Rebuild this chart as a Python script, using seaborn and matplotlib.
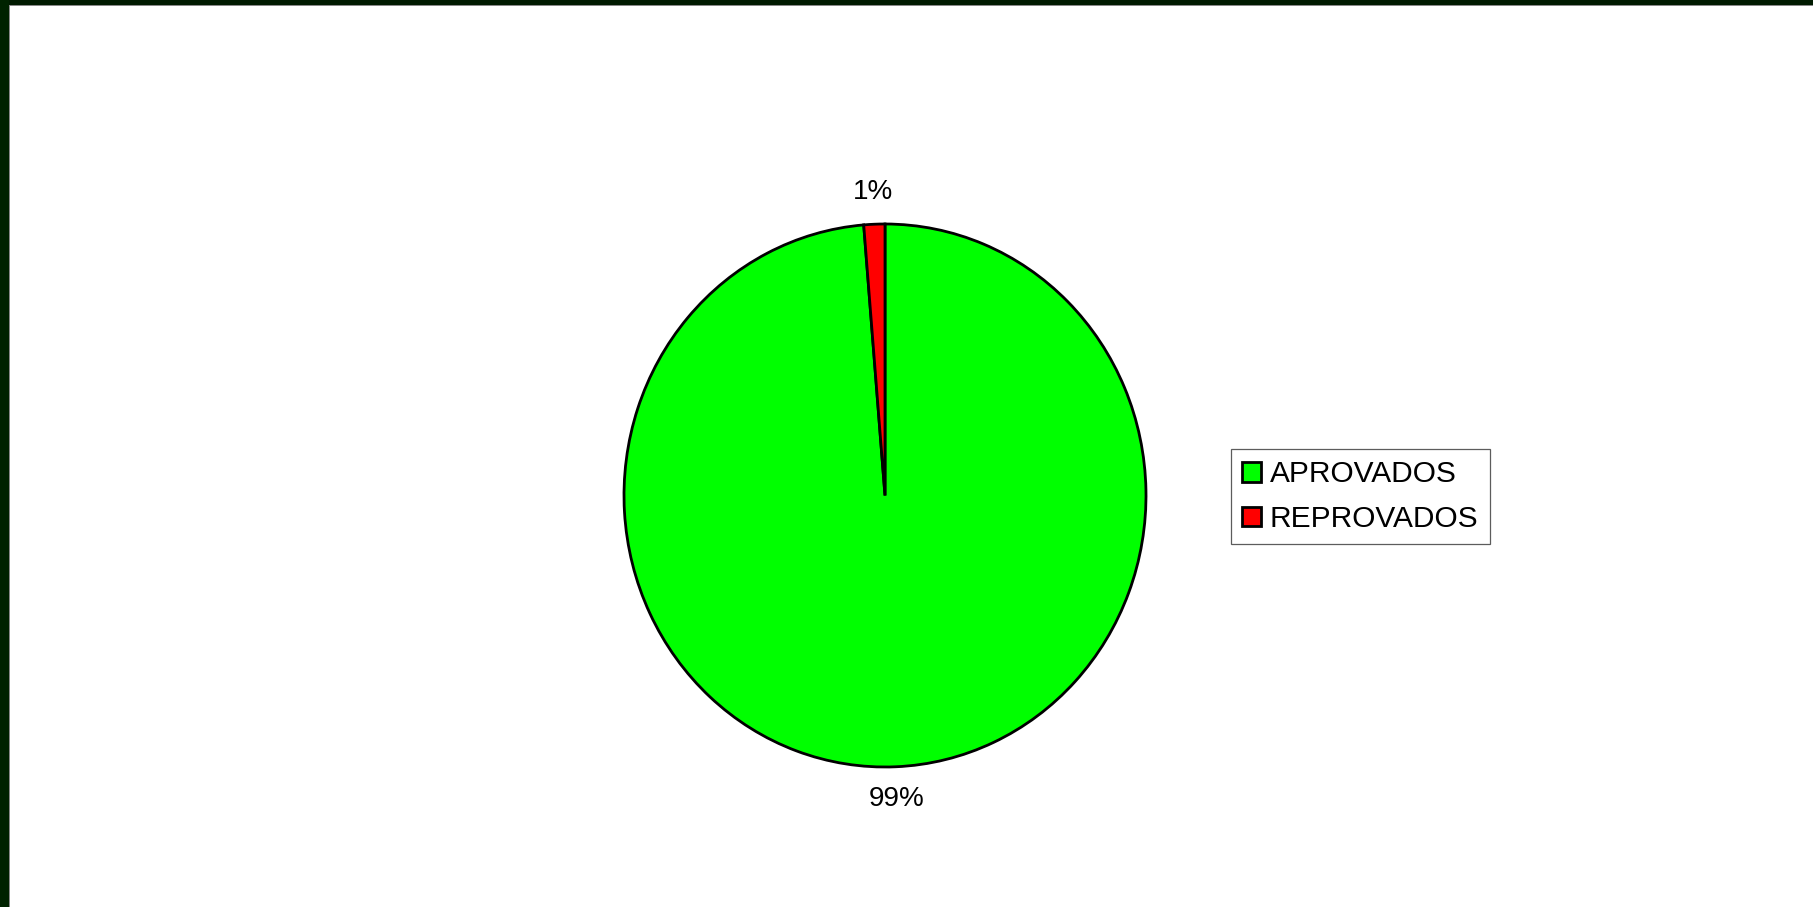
import matplotlib
matplotlib.use("Agg")
import matplotlib.pyplot as plt
from matplotlib.patches import Rectangle
import seaborn as sns

# dados do grafico
categorias = ["APROVADOS", "REPROVADOS"]
percentuais = [98.7, 1.3]
cores = ["#00ff00", "#ff0000"]

sns.set_theme(style="white")
plt.rcParams['font.family'] = ['Liberation Sans', 'DejaVu Sans']

W, H = 1813, 907
fig = plt.figure(figsize=(W / 100, H / 100), dpi=100)
fig.patch.set_facecolor("white")

# moldura escura (topo e esquerda)
fig.patches.append(Rectangle((0, 1 - 5 / H), 1, 5 / H, transform=fig.transFigure,
                             facecolor="#001a00", edgecolor="none", zorder=0))
fig.patches.append(Rectangle((0, 0), 9 / W, 1, transform=fig.transFigure,
                             facecolor="#002200", edgecolor="none", zorder=0))
fig.patches.append(Rectangle((9 / W, 0), 1.2 / W, 1 - 5 / H, transform=fig.transFigure,
                             facecolor="#888888", edgecolor="none", zorder=0))
fig.patches.append(Rectangle((9 / W, 1 - 6.2 / H), 1, 1.2 / H, transform=fig.transFigure,
                             facecolor="#888888", edgecolor="none", zorder=0))

# eixo da pizza (levemente oval como no original)
left, right, top, bottom = 624, 1146, 224, 767
ax = fig.add_axes([left / W, 1 - bottom / H, (right - left) / W, (bottom - top) / H])

wedges, textos, autotextos = ax.pie(
    percentuais,
    colors=cores,
    startangle=90,
    counterclock=False,
    autopct='%1.0f%%',
    pctdistance=1.12,
    wedgeprops=dict(edgecolor="black", linewidth=2.0),
    textprops=dict(fontsize=20, color="black"),
)
ax.set_aspect('auto')
ax.set_xlim(-1, 1)
ax.set_ylim(-1, 1)
ax.axis('off')
for w in wedges:
    w.set_clip_on(False)

leg = fig.legend(
    wedges, categorias,
    loc="upper left",
    bbox_to_anchor=(1231 / W, 1 - 449 / H),
    fontsize=21.5,
    labelcolor="black",
    frameon=True,
    fancybox=False,
    edgecolor="#333333",
    handlelength=0.62,
    handleheight=0.62,
    handletextpad=0.3,
    labelspacing=0.55,
    borderpad=0.38,
    borderaxespad=0,
)
leg.get_frame().set_linewidth(0.9)
for h in leg.legend_handles:
    h.set_edgecolor("black")
    h.set_linewidth(2.0)

fig.savefig("out.png", dpi=100)
